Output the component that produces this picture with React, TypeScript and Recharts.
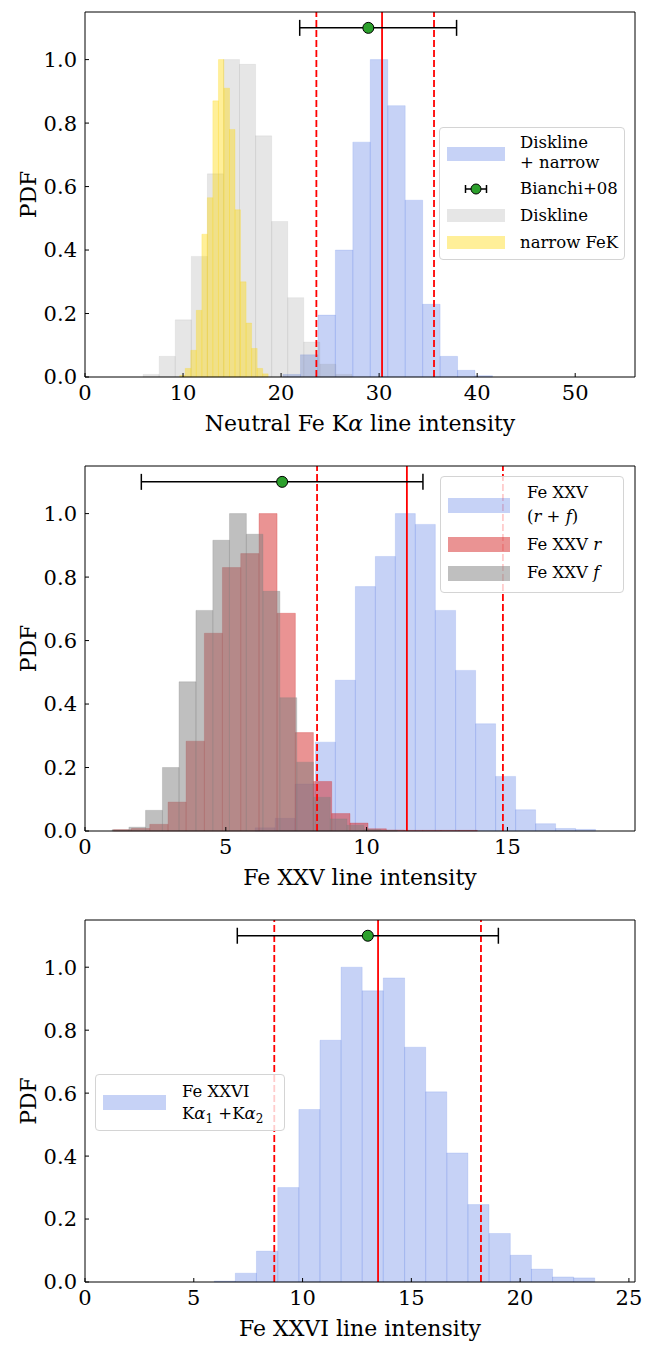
import React from "react";
import {
  ComposedChart,
  XAxis,
  YAxis,
  ReferenceArea,
  ReferenceLine,
  Scatter,
  ErrorBar,
  Label,
} from "recharts";

const FONT = "'DejaVu Serif', serif";

// shared y axis
const pdfTicks = [0, 0.2, 0.4, 0.6, 0.8, 1.0];

// panel 1: neutral Fe Ka (bin edges + normalised counts)
const kaTicks = [0, 10, 20, 30, 40, 50];
const kaTotalEdges = [20.2, 21.98, 23.76, 25.54, 27.32, 29.1, 30.88, 32.66, 34.44, 36.22, 38.0, 39.78, 41.56];
const kaTotalPdf = [0.008, 0.07, 0.195, 0.4, 0.74, 1.0, 0.855, 0.557, 0.229, 0.065, 0.021, 0.004];
const kaDisklineEdges = [5.93, 7.57, 9.21, 10.85, 12.48, 14.12, 15.76, 17.4, 19.04, 20.68, 22.31, 23.95, 25.59, 27.23];
const kaDisklinePdf = [0.008, 0.065, 0.18, 0.38, 0.64, 1.0, 0.985, 0.76, 0.49, 0.25, 0.11, 0.04, 0.008];
const kaNarrowEdges = [9.66, 10.22, 10.79, 11.35, 11.92, 12.48, 13.04, 13.61, 14.17, 14.74, 15.3, 15.86, 16.43, 16.99, 17.56, 18.12, 18.68];
const kaNarrowPdf = [0.005, 0.027, 0.084, 0.21, 0.45, 0.565, 0.87, 1.0, 0.91, 0.78, 0.527, 0.3, 0.17, 0.09, 0.027, 0.01];
const kaBianchi = [{ x: 28.9, y: 1.1, err: [7.0, 9.0] }];
const kaMedian = 30.3;
const kaBounds = [23.6, 35.6];

// panel 2: Fe XXV
const xxvTicks = [0, 5, 10, 15];
const xxvTotalEdges = [6.04, 6.75, 7.46, 8.18, 8.89, 9.6, 10.31, 11.02, 11.73, 12.44, 13.16, 13.87, 14.58, 15.29, 16.0, 16.71, 17.42, 18.13];
const xxvTotalPdf = [0.01, 0.04, 0.148, 0.28, 0.475, 0.77, 0.865, 1.0, 0.966, 0.695, 0.506, 0.338, 0.172, 0.067, 0.023, 0.008, 0.005];
const xxvREdges = [1.01, 1.65, 2.3, 2.95, 3.59, 4.24, 4.88, 5.53, 6.18, 6.82, 7.47, 8.11, 8.76, 9.41, 10.05, 10.7, 11.34, 11.99, 12.64, 13.28, 13.93];
const xxvRPdf = [0.004, 0.008, 0.021, 0.091, 0.283, 0.623, 0.83, 0.874, 1.0, 0.686, 0.31, 0.156, 0.055, 0.025, 0.007, 0.003, 0.002, 0.002, 0.002, 0.002];
const xxvFEdges = [0.96, 1.56, 2.15, 2.75, 3.34, 3.94, 4.54, 5.13, 5.73, 6.32, 6.92, 7.52, 8.11, 8.71, 9.3, 9.9, 10.5, 11.09];
const xxvFPdf = [0.004, 0.012, 0.065, 0.2, 0.47, 0.695, 0.916, 1.0, 0.935, 0.755, 0.42, 0.217, 0.106, 0.038, 0.018, 0.005, 0.002];
const xxvBianchi = [{ x: 7.0, y: 1.1, err: [5.0, 5.0] }];
const xxvMedian = 11.43;
const xxvBounds = [8.24, 14.84];

// panel 3: Fe XXVI
const xxviTicks = [0, 5, 10, 15, 20, 25];
const xxviEdges = [5.94, 6.91, 7.88, 8.86, 9.83, 10.8, 11.77, 12.74, 13.71, 14.69, 15.66, 16.63, 17.6, 18.57, 19.55, 20.52, 21.49, 22.46, 23.43];
const xxviPdf = [0.003, 0.028, 0.098, 0.3, 0.548, 0.768, 1.0, 0.925, 0.966, 0.746, 0.604, 0.41, 0.246, 0.154, 0.085, 0.041, 0.016, 0.013];
const xxviBianchi = [{ x: 13.0, y: 1.1, err: [6.0, 6.0] }];
const xxviMedian = 13.47;
const xxviBounds = [8.7, 18.2];

const BLUE = "#4169e1";
const GREY = "#808080";
const GOLD = "#ffd700";
const RED = "#d62728";

type Hist = { edges: number[]; pdf: number[]; color: string; alpha: number };

type PanelProps = {
  top: number;
  height: number;
  xMax: number;
  xTicks: number[];
  hists: Hist[];
  point: { x: number; y: number; err: number[] }[];
  median: number;
  bounds: number[];
  xTitle: React.ReactNode;
};

const tickStyle = { fill: "#000", fontSize: 21, fontFamily: FONT };
const lineStyle = { stroke: "#000", strokeWidth: 1 };

function Panel({ top, height, xMax, xTicks, hists, point, median, bounds, xTitle }: PanelProps) {
  return (
    <div style={{ position: "absolute", left: 0, top }}>
      <ComposedChart width={651} height={height} margin={{ top: 11, right: 15, bottom: 0, left: 25 }}>
        {hists.map((h, k) =>
          h.pdf.map((v, i) => (
            <ReferenceArea
              key={`h${k}-${i}`}
              x1={h.edges[i]}
              x2={h.edges[i + 1]}
              y1={0}
              y2={v}
              fill={h.color}
              fillOpacity={h.alpha}
              stroke={h.color}
              strokeOpacity={h.alpha}
              strokeWidth={0.5}
            />
          ))
        )}
        <ReferenceLine x={median} stroke="#ff0000" strokeWidth={1.8} />
        {bounds.map((b) => (
          <ReferenceLine key={b} x={b} stroke="#ff0000" strokeWidth={1.8} strokeDasharray="7 3" />
        ))}
        <Scatter
          data={point}
          isAnimationActive={false}
          shape={(p: any) => (
            <circle cx={p.cx} cy={p.cy} r={5.5} fill="#2ca02c" stroke="#000" strokeWidth={1} />
          )}
        >
          <ErrorBar dataKey="err" direction="x" width={8} stroke="#000" strokeWidth={1.5} />
        </Scatter>
        <XAxis
          type="number"
          dataKey="x"
          domain={[0, xMax]}
          ticks={xTicks}
          interval={0}
          allowDataOverflow
          height={63}
          tickSize={-4}
          tickMargin={12}
          tick={tickStyle}
          tickLine={lineStyle}
          axisLine={lineStyle}
          label={
            <Label
              content={(p: any) => (
                <text
                  x={p.viewBox.x + p.viewBox.width / 2}
                  y={p.viewBox.y + 46}
                  textAnchor="middle"
                  dominantBaseline="central"
                  fontFamily={FONT}
                  fontSize={22}
                  fill="#000"
                >
                  {xTitle}
                </text>
              )}
            />
          }
        />
        <XAxis
          xAxisId="top"
          orientation="top"
          type="number"
          domain={[0, xMax]}
          ticks={xTicks}
          interval={0}
          allowDataOverflow
          height={1}
          tickSize={-4}
          tick={false}
          tickLine={lineStyle}
          axisLine={lineStyle}
        />
        <YAxis
          type="number"
          dataKey="y"
          domain={[0, 1.15]}
          ticks={pdfTicks}
          interval={0}
          allowDataOverflow
          width={60}
          tickSize={-4}
          tickMargin={12}
          tick={tickStyle}
          tickLine={lineStyle}
          axisLine={lineStyle}
          tickFormatter={(v: number) => v.toFixed(1)}
          label={
            <Label
              content={(p: any) => (
                <text
                  transform={`translate(28, ${p.viewBox.y + p.viewBox.height / 2}) rotate(-90)`}
                  textAnchor="middle"
                  dominantBaseline="central"
                  fontFamily={FONT}
                  fontSize={22}
                  fill="#000"
                >
                  PDF
                </text>
              )}
            />
          }
        />
        <YAxis
          yAxisId="r"
          orientation="right"
          type="number"
          domain={[0, 1.15]}
          ticks={pdfTicks}
          interval={0}
          allowDataOverflow
          width={1}
          tickSize={-4}
          tick={false}
          tickLine={lineStyle}
          axisLine={lineStyle}
        />
      </ComposedChart>
    </div>
  );
}

const legendBox = (left: number, top: number, width: number, height: number): React.CSSProperties => ({
  position: "absolute",
  left,
  top,
  width,
  height,
  border: "1px solid #d4d4d4",
  borderRadius: 4,
  background: "rgba(255,255,255,0.8)",
  boxSizing: "border-box",
  fontFamily: FONT,
  fontSize: 16.5,
  color: "#000",
  zIndex: 5,
});

function Patch({ x, y, w, h, color, alpha }: { x: number; y: number; w: number; h: number; color: string; alpha: number }) {
  return <div style={{ position: "absolute", left: x, top: y, width: w, height: h, background: color, opacity: alpha }} />;
}

function Txt({ x, cy, children }: { x: number; cy: number; children: React.ReactNode }) {
  return (
    <div style={{ position: "absolute", left: x, top: cy - 10, lineHeight: "20px", whiteSpace: "nowrap" }}>
      {children}
    </div>
  );
}

function ErrMarker({ x, cy }: { x: number; cy: number }) {
  return (
    <svg style={{ position: "absolute", left: x, top: cy - 7 }} width={24} height={14}>
      <line x1={1.5} y1={7} x2={22.5} y2={7} stroke="#000" strokeWidth={1.5} />
      <line x1={1.5} y1={3} x2={1.5} y2={11} stroke="#000" strokeWidth={1.5} />
      <line x1={22.5} y1={3} x2={22.5} y2={11} stroke="#000" strokeWidth={1.5} />
      <circle cx={12} cy={7} r={5} fill="#2ca02c" stroke="#000" strokeWidth={1} />
    </svg>
  );
}

const it = (s: string) => <i>{s}</i>;

export default function App() {
  return (
    <div style={{ position: "absolute", left: 0, top: 0, width: 651, height: 1345, background: "#fff", overflow: "hidden" }}>
      <Panel
        top={0}
        height={440}
        xMax={56.1}
        xTicks={kaTicks}
        hists={[
          { edges: kaTotalEdges, pdf: kaTotalPdf, color: BLUE, alpha: 0.3 },
          { edges: kaDisklineEdges, pdf: kaDisklinePdf, color: GREY, alpha: 0.2 },
          { edges: kaNarrowEdges, pdf: kaNarrowPdf, color: GOLD, alpha: 0.4 },
        ]}
        point={kaBianchi}
        median={kaMedian}
        bounds={kaBounds}
        xTitle={
          <>
            Neutral Fe K<tspan fontStyle="italic">α</tspan> line intensity
          </>
        }
      />
      <Panel
        top={454}
        height={440}
        xMax={19.53}
        xTicks={xxvTicks}
        hists={[
          { edges: xxvTotalEdges, pdf: xxvTotalPdf, color: BLUE, alpha: 0.3 },
          { edges: xxvREdges, pdf: xxvRPdf, color: RED, alpha: 0.5 },
          { edges: xxvFEdges, pdf: xxvFPdf, color: GREY, alpha: 0.5 },
        ]}
        point={xxvBianchi}
        median={xxvMedian}
        bounds={xxvBounds}
        xTitle="Fe XXV line intensity"
      />
      <Panel
        top={908}
        height={437}
        xMax={25.28}
        xTicks={xxviTicks}
        hists={[{ edges: xxviEdges, pdf: xxviPdf, color: BLUE, alpha: 0.3 }]}
        point={xxviBianchi}
        median={xxviMedian}
        bounds={xxviBounds}
        xTitle="Fe XXVI line intensity"
      />

      {/* legend, panel 1 */}
      <div style={legendBox(439, 127, 186, 133)}>
        <Patch x={7} y={19} w={58} h={14} color={BLUE} alpha={0.3} />
        <Txt x={80} cy={15}>Diskline</Txt>
        <Txt x={80} cy={35}>+ narrow</Txt>
        <ErrMarker x={24} cy={61} />
        <Txt x={80} cy={61}>Bianchi+08</Txt>
        <Patch x={7} y={81} w={58} h={13} color={GREY} alpha={0.2} />
        <Txt x={80} cy={88}>Diskline</Txt>
        <Patch x={7} y={108} w={58} h={13} color={GOLD} alpha={0.4} />
        <Txt x={80} cy={115}>narrow FeK</Txt>
      </div>

      {/* legend, panel 2 */}
      <div style={legendBox(440, 476, 184, 117)}>
        <Patch x={7} y={21} w={62} h={15} color={BLUE} alpha={0.3} />
        <Txt x={86} cy={16}>Fe XXV</Txt>
        <Txt x={86} cy={40}>
          ({it("r")} + {it("f")})
        </Txt>
        <Patch x={7} y={60} w={62} h={15} color={RED} alpha={0.5} />
        <Txt x={86} cy={68}>Fe XXV {it("r")}</Txt>
        <Patch x={7} y={89} w={62} h={15} color={GREY} alpha={0.5} />
        <Txt x={86} cy={96}>Fe XXV {it("f")}</Txt>
      </div>

      {/* legend, panel 3 */}
      <div style={legendBox(95, 1074, 190, 57)}>
        <Patch x={7} y={20} w={63} h={15} color={BLUE} alpha={0.3} />
        <Txt x={86} cy={17}>Fe XXVI</Txt>
        <Txt x={86} cy={39}>
          K{it("α")}
          <sub style={{ fontSize: 12 }}>1</sub> +K{it("α")}
          <sub style={{ fontSize: 12 }}>2</sub>
        </Txt>
      </div>
    </div>
  );
}
